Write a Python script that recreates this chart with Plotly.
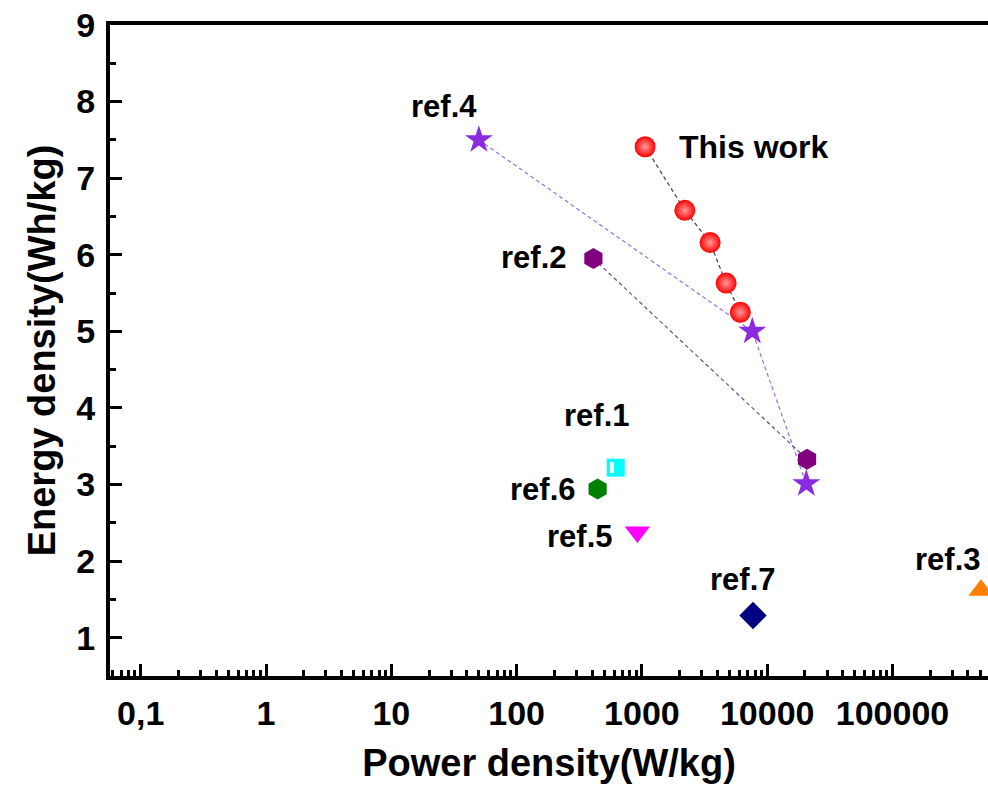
import math
import plotly.graph_objects as go

# ---- data ----
this_work_x = [1060, 2200, 3500, 4700, 6100]
this_work_y = [7.41, 6.58, 6.16, 5.63, 5.25]

ref4_x = [50, 7600, 20500]
ref4_y = [7.50, 5.00, 3.01]

ref2_x = [410, 20800]
ref2_y = [5.95, 3.33]

ref1_x = [618]
ref1_y = [3.22]

ref6_x = [443]
ref6_y = [2.94]

ref5_x = [920]
ref5_y = [2.38]

ref7_x = [7700]
ref7_y = [1.29]

ref3_x = [508000]
ref3_y = [1.62]

x_tickvals = [0.1, 1, 10, 100, 1000, 10000, 100000]
x_ticktext = ["0,1", "1", "10", "100", "1000", "10000", "100000"]
y_tickvals = [1, 2, 3, 4, 5, 6, 7, 8, 9]

FONT = "Liberation Sans, Arial, sans-serif"

fig = go.Figure()

# connecting dashed lines
fig.add_trace(go.Scatter(x=this_work_x, y=this_work_y, mode="lines",
                         line=dict(color="#404040", width=1.2, dash="4px,3px"),
                         showlegend=False, hoverinfo="skip"))
fig.add_trace(go.Scatter(x=ref4_x, y=ref4_y, mode="lines",
                         line=dict(color="#9b6fe0", width=1.2, dash="4px,3px"),
                         showlegend=False, hoverinfo="skip"))
fig.add_trace(go.Scatter(x=ref2_x, y=ref2_y, mode="lines",
                         line=dict(color="#6e4f86", width=1.2, dash="4px,3px"),
                         showlegend=False, hoverinfo="skip"))

# markers
fig.add_trace(go.Scatter(x=ref2_x, y=ref2_y, mode="markers",
                         marker=dict(symbol="hexagon", size=21, color="#800080",
                                     line=dict(width=0)),
                         showlegend=False, cliponaxis=False))
fig.add_trace(go.Scatter(x=ref4_x, y=ref4_y, mode="markers",
                         marker=dict(symbol="star", size=21, color="#8a2be2",
                                     line=dict(width=0)),
                         showlegend=False, cliponaxis=False))
fig.add_trace(go.Scatter(x=this_work_x, y=this_work_y, mode="markers",
                         marker=dict(symbol="circle", size=21, color="#ff0000",
                                     gradient=dict(type="radial", color="#ff9a9a"),
                                     line=dict(width=0)),
                         showlegend=False, cliponaxis=False))
fig.add_trace(go.Scatter(x=ref1_x, y=ref1_y, mode="markers",
                         marker=dict(symbol="square", size=18, color="#00ffff",
                                     line=dict(width=0)),
                         showlegend=False, cliponaxis=False))
fig.add_trace(go.Scatter(x=ref6_x, y=ref6_y, mode="markers",
                         marker=dict(symbol="hexagon", size=21, color="#008000",
                                     line=dict(width=0)),
                         showlegend=False, cliponaxis=False))
fig.add_trace(go.Scatter(x=ref5_x, y=ref5_y, mode="markers",
                         marker=dict(symbol="triangle-down", size=22, color="#ff00ff",
                                     line=dict(width=0)),
                         showlegend=False, cliponaxis=False))
fig.add_trace(go.Scatter(x=ref7_x, y=ref7_y, mode="markers",
                         marker=dict(symbol="diamond", size=21, color="#000080",
                                     line=dict(width=0)),
                         showlegend=False, cliponaxis=False))
fig.add_trace(go.Scatter(x=ref3_x, y=ref3_y, mode="markers",
                         marker=dict(symbol="triangle-up", size=22, color="#ff8000",
                                     line=dict(width=0)),
                         showlegend=False, cliponaxis=False))

# half-open look of the ref.1 square: small white bar anchored to the point
fig.add_annotation(x=math.log10(ref1_x[0]), y=ref1_y[0], xref="x", yref="y",
                   text=" ", showarrow=False, width=4, height=11,
                   bgcolor="white", borderpad=0, borderwidth=0,
                   font=dict(size=2), xshift=-3.5, yshift=0)

# labels, anchored to their points with pixel shifts (log axis -> log10 position)
lab_font = dict(family=FONT, size=31, color="black", weight="bold")
labels = [
    ("ref.4", ref4_x[0], ref4_y[0], "center", -35, 33),
    ("This work", this_work_x[0], this_work_y[0], "left", 32, 0),
    ("ref.2", ref2_x[0], ref2_y[0], "right", -25, 1),
    ("ref.1", ref1_x[0], ref1_y[0], "center", -19, 52),
    ("ref.6", ref6_x[0], ref6_y[0], "right", -21, 0),
    ("ref.5", ref5_x[0], ref5_y[0], "right", -23, -4),
    ("ref.7", ref7_x[0], ref7_y[0], "center", -10, 36),
    ("ref.3", ref3_x[0], ref3_y[0], "center", -33, 31),
]
for txt, lx, ly, anc, xs, ys in labels:
    fig.add_annotation(x=math.log10(lx), y=ly, xref="x", yref="y", text=txt,
                       showarrow=False, xanchor=anc, yanchor="middle",
                       xshift=xs, yshift=ys,
                       font=lab_font if txt != "This work" else dict(lab_font, size=32))

# minor tick positions for the log axis
x_minor = []
for d in range(-2, 6):
    for k in range(2, 10):
        v = k * 10 ** d
        if 0.055 < v < 600000:
            x_minor.append(v)

tick_font = dict(family=FONT, size=34, color="black", weight="bold")
title_font = dict(family=FONT, size=38, color="black", weight="bold")

fig.update_layout(
    width=988, height=792,
    margin=dict(l=110, r=0, t=25, b=116),
    paper_bgcolor="white", plot_bgcolor="white",
    showlegend=False,
    xaxis=dict(
        type="log", range=[-1.245, 5.762],
        tickmode="array", tickvals=x_tickvals, ticktext=x_ticktext,
        ticks="inside", ticklen=12, tickwidth=3, tickcolor="black",
        minor=dict(tickmode="array", tickvals=x_minor, ticks="inside",
                   ticklen=6, tickwidth=3, tickcolor="black", showgrid=False),
        showline=True, linewidth=4, linecolor="black", mirror=True,
        showgrid=False, zeroline=False,
        tickfont=tick_font, ticklabelstandoff=4,
        title=dict(text="Power density(W/kg)", font=title_font, standoff=20),
    ),
    yaxis=dict(
        range=[0.5, 9],
        tickmode="array", tickvals=y_tickvals,
        ticks="inside", ticklen=12, tickwidth=3, tickcolor="black",
        minor=dict(dtick=0.5, tick0=0.5, ticks="inside", ticklen=6,
                   tickwidth=3, tickcolor="black", showgrid=False),
        showline=True, linewidth=4, linecolor="black", mirror=False,
        showgrid=False, zeroline=False,
        tickfont=tick_font, ticklabelstandoff=4,
        title=dict(text="Energy density(Wh/kg)", font=title_font, standoff=10),
    ),
)

fig.write_html("out.html")
